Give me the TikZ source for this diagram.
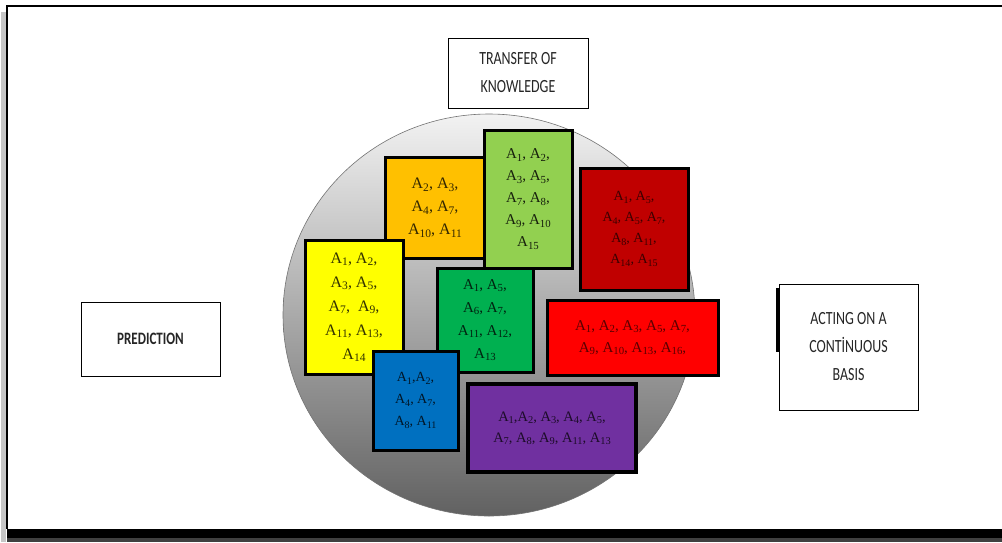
\documentclass[tikz,border=0pt]{standalone}
\usepackage{fontspec}
\usepackage{graphicx}
\setmainfont{Liberation Serif}
\newfontfamily\labfont{Carlito}
\usetikzlibrary{shapes.geometric}
\newcommand\Ai[1]{A\raisebox{-0.35ex}{\scalebox{0.72}{#1}}}
\newcommand\tall[1]{\scalebox{0.9}[1.2]{#1}}
\definecolor{cOrange}{HTML}{FFC000}
\definecolor{cLGreen}{HTML}{92D050}
\definecolor{cDRed}{HTML}{C00000}
\definecolor{cYellow}{HTML}{FFFF00}
\definecolor{cGreen}{HTML}{00B050}
\definecolor{cRed}{HTML}{FF0000}
\definecolor{cBlue}{HTML}{0070C0}
\definecolor{cPurple}{HTML}{7030A0}
\begin{document}
\begin{tikzpicture}[x=1pt,y=-1pt,
  cbox/.style={draw=black,line width=3pt,inner sep=0pt,align=center},
  wbox/.style={draw=black,line width=0.9pt,fill=white,inner sep=0pt,align=center,
    font=\labfont\fontsize{15.5}{28}\selectfont, text=black!85}]
\useasboundingbox (0,0) rectangle (1002,542);
\fill[white] (0,0) rectangle (1002,542);
% page frame
\fill[gray!45] (1,12) rectangle (6,542);
\fill[black!75] (7,538) rectangle (1002,542);
\fill[black] (7,529) rectangle (1002,538);
\draw[line width=1.5pt] (7,529) -- (7,6) -- (1002,6);
% oval
\node[ellipse, draw=black!55, line width=0.6pt, top color=gray!10, bottom color=black!62,
  minimum width=412, minimum height=402, inner sep=0pt] (oval) at (489,315) {};
% white label boxes
\node[wbox, minimum width=140, minimum height=70] (transfer) at (518,73) {\tall{TRANSFER OF}\\\tall{KNOWLEDGE}};
\node[wbox, minimum width=139, minimum height=74, font=\labfont\bfseries\fontsize{14.5}{18}\selectfont] (pred) at (150.5,339) {\tall{PREDICTION}};
\fill[black] (775.5,288) rectangle (780,352);
\node[wbox, minimum width=139, minimum height=126] (acting) at (848.5,347) {\tall{ACTING ON A}\\\tall{CONTİNUOUS}\\\tall{BASIS}};
% coloured boxes
\node[cbox, fill=cOrange, text=cOrange!20!black, minimum width=100, minimum height=101,
  font=\fontsize{16}{23}\selectfont] (orange) at (435,207.5)
  {\Ai{2}, \Ai{3},\\ \Ai{4}, \Ai{7},\\ \Ai{10}, \Ai{11}};
\node[cbox, fill=cLGreen, text=cLGreen!15!black, minimum width=88, minimum height=138,
  font=\fontsize{15}{22}\selectfont] (lgreen) at (528,199)
  {\Ai{1}, \Ai{2},\\ \Ai{3}, \Ai{5},\\ \Ai{7}, \Ai{8},\\ \Ai{9}, \Ai{10}\\ \Ai{15}};
\node[cbox, fill=cDRed, text=cDRed!30!black, minimum width=108, minimum height=122,
  font=\fontsize{14}{21}\selectfont] (dred) at (634,229)
  {\Ai{1}, \Ai{5},\\ \Ai{4}, \Ai{5}, \Ai{7},\\ \Ai{8}, \Ai{11},\\ \Ai{14}, \Ai{15}};
\node[cbox, fill=cYellow, text=cYellow!20!black, minimum width=98, minimum height=134,
  font=\fontsize{16}{24}\selectfont] (yellow) at (354,307)
  {\Ai{1}, \Ai{2},\\ \Ai{3}, \Ai{5},\\ \Ai{7}, \ \Ai{9},\\ \Ai{11}, \Ai{13},\\ \Ai{14}};
\node[cbox, fill=cGreen, text=cGreen!20!black, minimum width=96, minimum height=104,
  font=\fontsize{15}{23}\selectfont] (green) at (485,320)
  {\Ai{1}, \Ai{5},\\ \Ai{6}, \Ai{7},\\ \Ai{11}, \Ai{12},\\ \Ai{13}};
\node[cbox, fill=cRed, text=cRed!35!black, minimum width=171, minimum height=75,
  font=\fontsize{15}{22}\selectfont] (red) at (632.5,337.5)
  {\Ai{1}, \Ai{2}, \Ai{3}, \Ai{5}, \Ai{7},\\ \Ai{9}, \Ai{10}, \Ai{13}, \Ai{16},};
\node[cbox, fill=cBlue, text=cBlue!20!black, minimum width=85, minimum height=99,
  font=\fontsize{14}{22}\selectfont] (blue) at (415.5,400.5)
  {\Ai{1},\Ai{2},\\ \Ai{4}, \Ai{7},\\ \Ai{8}, \Ai{11}};
\node[cbox, fill=cPurple, text=cPurple!25!black, minimum width=168, minimum height=88,
  line width=3.5pt, font=\fontsize{14.5}{21}\selectfont] (purple) at (552,428)
  {\Ai{1},\Ai{2}, \Ai{3}, \Ai{4}, \Ai{5},\\ \Ai{7}, \Ai{8}, \Ai{9}, \Ai{11}, \Ai{13}};
\end{tikzpicture}
\end{document}
